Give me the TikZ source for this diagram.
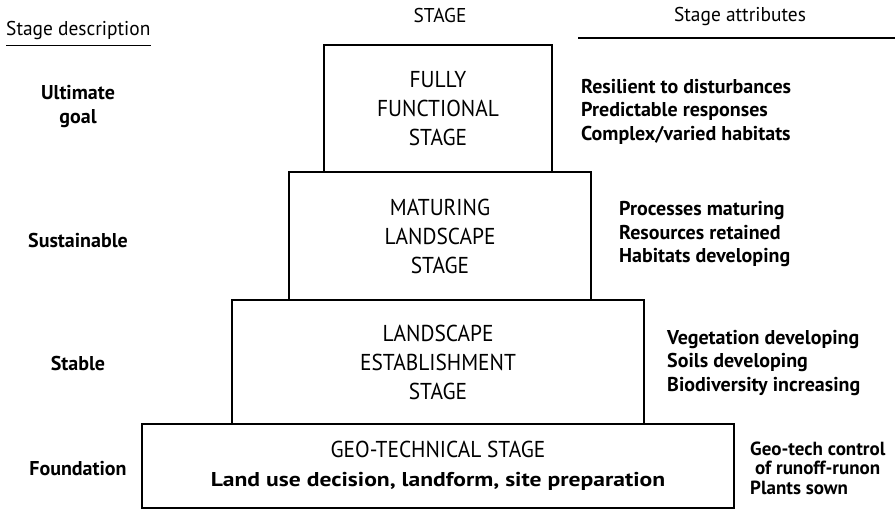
\documentclass[tikz,border=0pt]{standalone}
\usepackage{fontspec}
\setmainfont{PT Sans}
\newfontfamily\stagefont{PT Sans}[FakeStretch=0.93]
\newfontfamily\headfont{PT Sans}[FakeStretch=0.97]
\newfontfamily\landfont{PT Sans}[FakeStretch=1.18]
\usetikzlibrary{positioning}

\tikzset{
  stagebox/.style={draw, line width=1.3pt, align=center, inner sep=0pt,
    font=\stagefont\fontsize{23}{29}\selectfont},
  desc/.style={align=center, font=\bfseries\fontsize{20}{24}\selectfont},
  attr/.style={anchor=west, align=left, inner sep=0pt,
    font=\bfseries\fontsize{20}{23.5}\selectfont},
  head/.style={inner sep=0pt, font=\headfont\fontsize{20}{22}\selectfont},
}

\begin{document}
\begin{tikzpicture}[x=1pt,y=-1pt]
  \useasboundingbox (0,0) rectangle (895,509);
  % headings
  \node[head, anchor=west] (deschead) at (6,30) {Stage description};
  \draw[line width=1.2pt] (deschead.south west) ++(0,6) coordinate (dl) -- (dl -| deschead.east);
  \node[head] (stagehead) at (440,15) {STAGE};
  \node[head] (attrhead) at (740,16) {Stage attributes};
  \coordinate (al) at (578,38);
  \coordinate (ar) at (895,38);
  \draw[line width=1.2pt] (al) -- (ar);
  % the four stages
  \node[stagebox, minimum width=228pt, minimum height=127pt] (full) at (438,108.5)
    {FULLY\\FUNCTIONAL\\STAGE};
  \node[stagebox, minimum width=302pt, minimum height=128pt] (mature) at (440,236)
    {MATURING\\LANDSCAPE\\STAGE};
  \node[stagebox, minimum width=412pt, minimum height=124pt] (establish) at (438,362)
    {LANDSCAPE\\ESTABLISHMENT\\STAGE};
  \node[stagebox, minimum width=592pt, minimum height=84pt] (geotech) at (438,466)
    {GEO-TECHNICAL STAGE\\
     {\landfont\bfseries\fontsize{20}{28}\selectfont Land use decision, landform, site preparation}};
  % stage descriptions
  \node[desc] (goal) at (78,107) {Ultimate\\goal};
  \node[desc] (sustain) at (78,240) {Sustainable};
  \node[desc] (stable) at (78,363) {Stable};
  \node[desc] (found) at (78,469) {Foundation};
  % stage attributes
  \node[attr] (fullattr) at (581,111.5)
    {Resilient to disturbances\\Predictable responses\\Complex/varied habitats};
  \node[attr] (matureattr) at (619,234.5)
    {Processes maturing\\Resources retained\\Habitats developing};
  \node[attr] (establishattr) at (667,363)
    {Vegetation developing\\Soils developing\\Biodiversity increasing};
  \node[attr, font=\bfseries\fontsize{19}{19.5}\selectfont] (geoattr) at (750,468)
    {Geo-tech control\\\hspace*{5pt}of runoff-runon\\Plants sown};
\end{tikzpicture}
\end{document}
